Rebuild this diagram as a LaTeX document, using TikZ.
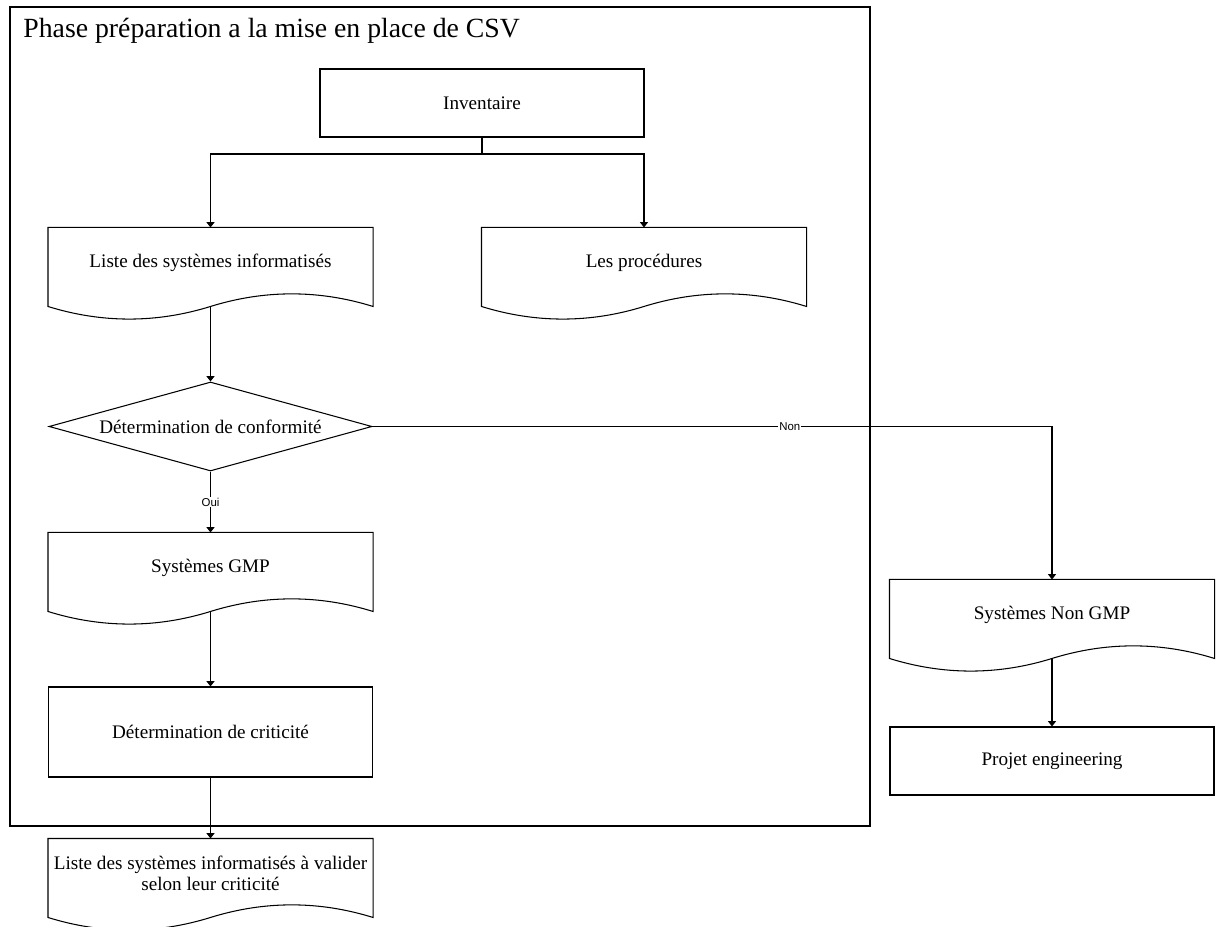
\documentclass[tikz,border=0pt]{standalone}
\usepackage{fontspec}
\setmainfont{Liberation Serif}
\newfontfamily\labelfont{Liberation Sans}
\usepackage{tikz}
\usetikzlibrary{arrows.meta,calc,positioning,shapes.geometric}
\tikzset{%
	process/.style  = {draw, rectangle, minimum width=6.48cm, minimum height=1.36cm, text centered},
	docu/.style     = {rectangle, inner sep=0pt, minimum width=6.48cm, minimum height=1.38cm, align=center}, % Document
	decision/.style = {draw, diamond, aspect=3.63, inner sep=0pt, minimum width=6.46cm, minimum height=1.78cm, text centered},
	waypoint/.style = {coordinate},
	lbl/.style      = {fill=white, inner sep=0.6pt, font=\labelfont\fontsize{6.5}{7}\selectfont},
	frame/.style    = {draw, rectangle, inner sep=0pt, minimum width=17.2cm, minimum height=16.38cm},
}

\begin{document}
\begin{tikzpicture}[line width=0.6pt,>={Triangle[width=4.5pt,length=3pt]},font=\fontsize{10.9}{12}\selectfont]
	\useasboundingbox (0,0) rectangle (24.38,-18.54);
	\node [frame] (phase) at (8.8,-8.33) {};
	\node [anchor=base west,font=\fontsize{15.8}{17}\selectfont] (titre) at (0.34,-0.76) {Phase préparation a la mise en place de CSV};
	
	\node [process] (inv) at (9.64,-2.06) {Inventaire};
	\node [waypoint] (fork) [below of=inv,node distance=1.02cm] {};
	\node [docu] (liste) at (4.21,-5.25) {Liste des systèmes informatisés};
	\node [docu] (proc) [right of=liste,node distance=8.67cm] {Les procédures};
	\node [decision] (conf) [below of=liste,node distance=3.28cm] {Détermination de conformité};
	\node [docu] (gmp) [below of=conf,node distance=2.82cm] {Systèmes GMP};
	\node [process,minimum height=1.8cm] (crit) [below of=gmp,node distance=3.29cm] {Détermination de criticité};
	\node [docu] (valider) [below of=crit,node distance=2.83cm] {Liste des systèmes informatisés à valider\\selon leur criticité};
	\node [docu] (nongmp) at (21.04,-12.29) {Systèmes Non GMP};
	\node [process] (projet) [below of=nongmp,node distance=2.93cm] {Projet engineering};
	
	% document outlines with wavy bottom
	\foreach \d in {liste,proc,gmp,valider,nongmp}{
		\draw (\d.north west) -- (\d.north east) -- ($(\d.north east)+(0,-1.58)$)
			.. controls +(-1.08,0.336) and +(1.08,0.336) .. ($(\d.north)+(0,-1.58)$) coordinate (\d-b)
			.. controls +(-1.08,-0.336) and +(1.08,-0.336) .. ($(\d.north west)+(0,-1.58)$) -- cycle;
	}
	
	\draw (inv) -- (fork);
	\draw[->] (fork) -| (liste);
	\draw[->] (fork) -| (proc);
	\draw[->] (liste-b) -- (conf);
	\draw[->] (conf) -- node[lbl] {Oui} (gmp);
	\draw[->] (conf) -| node[lbl,pos=0.307] {Non} (nongmp);
	\draw[->] (gmp-b) -- (crit);
	\draw[->] (crit) -- (valider);
	\draw[->] (nongmp-b) -- (projet);
\end{tikzpicture}
\end{document}
